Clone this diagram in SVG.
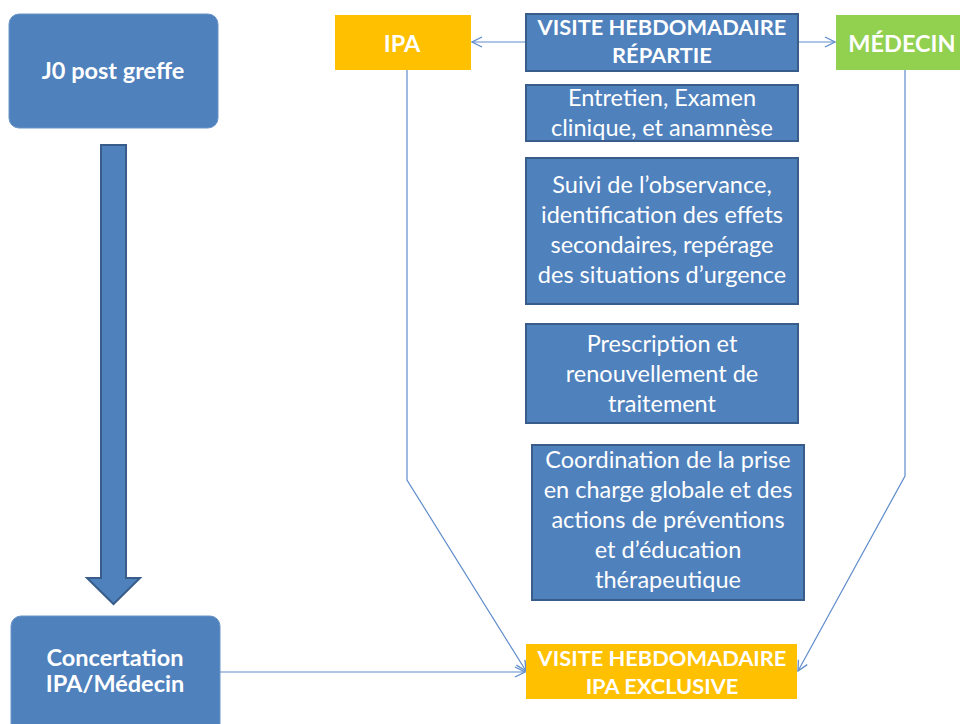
<svg xmlns="http://www.w3.org/2000/svg" width="960" height="724" viewBox="0 0 960 724">
<style>
.blue{fill:#4f81bd;stroke:#385d8a;stroke-width:2}
.round{fill:#4f81bd;stroke:#6a94c8;stroke-width:1}
.orange{fill:#ffc000}
.green{fill:#92d050}
text{font-family:Lato,"Open Sans","Liberation Sans",sans-serif;fill:#ffffff;text-anchor:middle}
.b{font-weight:bold;font-size:21.8px}
.big{font-weight:bold;font-size:23.5px}
.c{font-weight:bold;font-size:23.5px}
.t{font-size:23.5px}
.conn{fill:none;stroke:#5f8ccb;stroke-width:1.2}
</style>
<defs>
<marker id="arr" viewBox="0 0 12 12" refX="11" refY="6" markerWidth="12" markerHeight="12" markerUnits="userSpaceOnUse" orient="auto">
<path d="M1,1 L11,6 L1,11" fill="none" stroke="#5f8ccb" stroke-width="1.3"/>
</marker>
</defs>
<rect width="960" height="724" fill="#ffffff"/>
<g id="connectors">
<line class="conn" x1="526" y1="42" x2="472" y2="42" marker-end="url(#arr)"/>
<line class="conn" x1="799" y1="42" x2="835" y2="42" marker-end="url(#arr)"/>
<polyline class="conn" points="407,70 407,480 526,671" marker-end="url(#arr)"/>
<polyline class="conn" points="905,70 905,476 798,671" marker-end="url(#arr)"/>
<line class="conn" x1="220" y1="672" x2="525" y2="672" marker-end="url(#arr)"/>
<path id="blockarrow" d="M101,145 H126 V578 H140 L113.5,604 L87,578 H101 Z" fill="#4f81bd" stroke="#385d8a" stroke-width="2"/>
</g>
<g id="j0">
<rect class="round" x="9" y="14" width="209" height="114" rx="10"/>
<text class="big" x="113" y="79">J0 post greffe</text>
</g>
<g id="concertation">
<rect class="round" x="11" y="616" width="209" height="118" rx="10"/>
<text class="c" x="115" y="666">Concertation</text>
<text class="c" x="115" y="692">IPA/Médecin</text>
</g>
<g id="ipa">
<rect class="orange" x="335" y="15" width="136" height="55"/>
<text class="big" x="402" y="52">IPA</text>
</g>
<g id="medecin">
<rect class="green" x="836" y="15" width="130" height="55"/>
<text class="big" x="902" y="52">MÉDECIN</text>
</g>
<g id="repartie">
<rect class="blue" x="526" y="14" width="272" height="57"/>
<text class="b" x="662" y="35">VISITE HEBDOMADAIRE</text>
<text class="b" x="662" y="63">RÉPARTIE</text>
</g>
<g id="entretien">
<rect class="blue" x="526" y="85" width="272" height="56"/>
<text class="t" x="662" y="106">Entretien, Examen</text>
<text class="t" x="662" y="136">clinique, et anamnèse</text>
</g>
<g id="suivi">
<rect class="blue" x="526" y="158" width="272" height="146"/>
<text class="t" x="662" y="193">Suivi de l’observance,</text>
<text class="t" x="662" y="223">identification des effets</text>
<text class="t" x="662" y="253">secondaires, repérage</text>
<text class="t" x="662" y="283">des situations d’urgence</text>
</g>
<g id="prescription">
<rect class="blue" x="526" y="324" width="272" height="99"/>
<text class="t" x="662" y="352">Prescription et</text>
<text class="t" x="662" y="382">renouvellement de</text>
<text class="t" x="662" y="412">traitement</text>
</g>
<g id="coordination">
<rect class="blue" x="532" y="445" width="272" height="155"/>
<text class="t" x="668" y="468">Coordination de la prise</text>
<text class="t" x="668" y="498">en charge globale et des</text>
<text class="t" x="668" y="528">actions de préventions</text>
<text class="t" x="668" y="558">et d’éducation</text>
<text class="t" x="668" y="588">thérapeutique</text>
</g>
<g id="exclusive">
<rect class="orange" x="526" y="644" width="271" height="55"/>
<text class="b" x="662" y="666">VISITE HEBDOMADAIRE</text>
<text class="b" x="662" y="694">IPA EXCLUSIVE</text>
</g>
</svg>
